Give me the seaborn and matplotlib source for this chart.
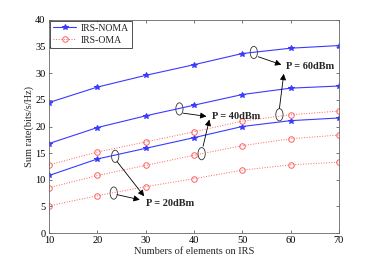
import numpy as np
import pandas as pd
import seaborn as sns
import matplotlib.pyplot as plt
from matplotlib.patches import Ellipse

# number of IRS elements
elements = [10, 20, 30, 40, 50, 60, 70]

# sum rate (bits/s/Hz)
noma_20 = [10.8, 13.9, 15.9, 17.9, 20.0, 21.1, 21.6]
noma_40 = [16.8, 19.8, 22.0, 24.0, 26.0, 27.2, 27.6]
noma_60 = [24.5, 27.4, 29.6, 31.6, 33.7, 34.7, 35.2]
oma_20 = [5.1, 7.0, 8.7, 10.2, 11.8, 12.8, 13.3]
oma_40 = [8.5, 10.8, 12.7, 14.6, 16.4, 17.7, 18.4]
oma_60 = [12.8, 15.2, 17.1, 19.0, 21.0, 22.2, 22.9]

power_labels = ["P = 20dBm", "P = 40dBm", "P = 60dBm"]

sns.set_style("ticks")
plt.rcParams['font.family'] = ['Liberation Serif', 'DejaVu Serif']

fig = plt.figure(figsize=(3.74, 2.63), dpi=100)
ax = fig.add_axes([0.131, 0.114, 0.775, 0.81])

blue = '#3a3aff'
red = '#ff6060'

for i, ys in enumerate([noma_60, noma_40, noma_20]):
    sns.lineplot(x=elements, y=ys, ax=ax, color=blue, lw=0.8, marker='*',
                 markersize=4, markeredgecolor=blue,
                 label='IRS-NOMA' if i == 0 else None)
for i, ys in enumerate([oma_60, oma_40, oma_20]):
    sns.lineplot(x=elements, y=ys, ax=ax, color=red, lw=0.7, ls=':', marker='o',
                 markersize=4, markerfacecolor='none', markeredgecolor=red,
                 markeredgewidth=0.7, label='IRS-OMA' if i == 0 else None)

ax.set_xlim(10, 70)
ax.set_ylim(0, 40)
ax.set_xticks(elements)
ax.set_yticks(np.arange(0, 41, 5))
ax.set_xlabel('Numbers of elements on IRS', fontsize=7.5, labelpad=1)
ax.set_ylabel('Sum rate(bits/s/Hz)', fontsize=7.5, labelpad=1)
ax.tick_params(direction='in', length=2.5, width=0.5, labelsize=7.5, pad=2.5,
               top=True, right=True, colors='#444444', labelcolor='black')
for s in ax.spines.values():
    s.set_visible(True)
    s.set_linewidth(0.6)
    s.set_color('#666666')

leg = ax.legend(loc='upper left', fontsize=7, frameon=True, fancybox=False,
                borderpad=0.3, labelspacing=0.3, handlelength=2.4,
                handletextpad=0.5, borderaxespad=0.1, edgecolor='black')
leg.get_frame().set_linewidth(0.6)

# ellipses marking curve groups
ell = [(52.4, 33.9), (37.0, 23.3), (41.6, 14.9), (57.7, 22.2), (23.7, 14.4), (23.4, 7.5)]
for cx, cy in ell:
    ax.add_patch(Ellipse((cx, cy), 1.5, 2.3, fill=False, lw=0.6, ec='#333333'))

arrows = [((53.3, 33.1), (58.1, 31.6)),
          ((37.8, 22.5), (42.6, 21.9)),
          ((41.9, 16.3), (43.2, 21.3)),
          ((57.7, 23.4), (58.6, 29.9)),
          ((24.1, 13.4), (29.7, 6.9)),
          ((24.1, 7.2), (28.8, 6.25))]
for start, end in arrows:
    ax.annotate('', xy=end, xytext=start,
                arrowprops=dict(arrowstyle='-|>', color='black', lw=0.6,
                                mutation_scale=9, shrinkA=0, shrinkB=0))

text_pos = [(30.0, 5.5), (43.7, 21.9), (59.0, 31.25)]
for (tx, ty), lab in zip(text_pos, power_labels):
    ax.text(tx, ty, lab, fontsize=7.5, fontweight='bold', va='center', ha='left')

fig.savefig('out.png', dpi=100)
